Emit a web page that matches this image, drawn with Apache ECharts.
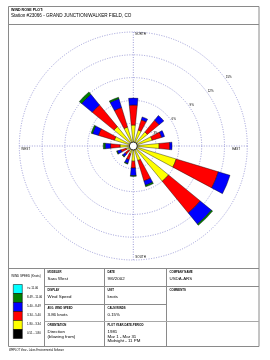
<!DOCTYPE html>
<html><head><meta charset="utf-8">
<script src="https://cdn.jsdelivr.net/npm/echarts@6/dist/echarts.min.js"></script>
<style>html,body{margin:0;padding:0;background:#fff}#c{width:270px;height:360px}</style>
</head><body><div id="c"></div>
<script>
// ---- data ----
const directions = ['N','NNE','NE','ENE','E','ESE','SE','SSE','S','SSW','SW','WSW','W','WNW','NW','NNW'];
const speedClasses = ['0.51 - 1.80','1.80 - 3.34','3.34 - 5.40','5.40 - 8.49','8.49 - 11.06','>= 11.06'];
const black  = [0.3,0.3,0.3,0.3,0.3,0.3,0.3,0.3,0.3,0.3,0.3,0.3,0.3,0.3,0.3,0.3];
const yellow = [2.46,1.9,2.1,2.3,3.1,5.6,5.7,1.7,1.7,0.8,0.5,0.7,1.45,2.3,3.0,2.3];
const red    = [2.64,1.4,2.0,1.3,1.4,5.8,5.4,2.8,0.9,0.8,0.6,0.7,1.25,2.2,3.7,2.7];
const blue   = [0.9,0.4,0.8,0.4,0.3,1.6,1.9,0.6,1.0,0.5,0.4,0.5,0.7,0.8,1.8,1.2];
const green  = [0,0,0,0,0,0,0.2,0.2,0.1,0.1,0.1,0.1,0.25,0.2,0.4,0.2];
const cyan   = [0,0,0,0,0,0,0,0,0,0,0,0,0,0,0,0];
const ringTicks = [3,6,9,12,15];
const ringLabels = ['3%','6%','9%','12%','15%'];
const cardinalLabels = ['NORTH','EAST','SOUTH','WEST'];

// ---- layout / style ----
const CX = 133.3, CY = 146, R = 114, RMAX = 15;
const FONT = '"Liberation Sans", Arial, sans-serif';
const GRID = '#9c9cd8';
const FRAME = '#8a8a8a';
const binColors = ['#000000','#ffff00','#ff0000','#0000ff','#008000','#00ffff'];
const binData = [black, yellow, red, blue, green, cyan];

const chart = echarts.init(document.getElementById('c'), null, {renderer:'canvas'});

const g = [];
function line(x1,y1,x2,y2,w,c){ g.push({type:'line',shape:{x1,y1,x2,y2},style:{stroke:c||FRAME,lineWidth:w||1},silent:true,z:10}); }
function text(t,x,y,size,opts){ opts=opts||{}; g.push({type:'text',x,y,silent:true,z:20,style:{text:t,fill:opts.fill||'#000',font:(opts.bold?'bold ':'')+size+'px '+FONT,textAlign:opts.align||'left',textVerticalAlign:opts.va||'middle'}}); }

// frame
g.push({type:'rect',shape:{x:8.5,y:6.5,width:250.5,height:340},style:{fill:null,stroke:FRAME,lineWidth:1},silent:true,z:10});
line(8.5,24.5,259,24.5);
text('WIND ROSE PLOT:',11,10,3.6,{bold:true});
text('Station #23066 - GRAND JUNCTION/WALKER FIELD, CO',11,16,4.6);
// table
const XC1=44.5, XC2=104.5, XC3=166.5, XR=259;
line(8.5,268.5,XR,268.5);
line(XC1,268.5,XC1,347);
line(XC2,268.5,XC2,347);
line(XC3,268.5,XC3,347);
line(XC1,286.5,XR,286.5);
line(XC1,304.5,XC3,304.5);
line(XC1,321.5,XR,321.5,1.2,'#a8a8a8');
// table texts
const LBL=2.8, VAL=4.4;
function cell(x,y,label,values){ text(label,x+3,y+3.5,LBL,{bold:true}); values.forEach((v,i)=>text(v,x+3,y+10+i*4.8,VAL)); }
cell(XC1,268.5,'MODELER',['Sara West']);
cell(XC2,268.5,'DATE',['9/6/2002']);
cell(XC3,268.5,'COMPANY NAME',['USDA-ARS']);
cell(XC1,286.5,'DISPLAY',['Wind Speed']);
cell(XC2,286.5,'UNIT',['knots']);
cell(XC3,286.5,'COMMENTS',[]);
cell(XC1,304.5,'AVG. WIND SPEED',['3.86 knots']);
cell(XC2,304.5,'CALM WINDS',['0.15%']);
cell(XC1,321.5,'ORIENTATION',['Direction','(blowing from)']);
cell(XC2,321.5,'PLOT YEAR-DATE-PERIOD',['1981','Mar 1 - Mar 31','Midnight - 11 PM']);
// legend
text('WIND SPEED (Knots)',26,276,3,{align:'center'});
const LX=13.3, LY=284.5, LH=9;
for(let i=0;i<6;i++){
  const k=5-i;
  g.push({type:'rect',shape:{x:LX,y:LY+i*LH,width:9,height:LH},style:{fill:binColors[k],stroke:'#000',lineWidth:0.5},silent:true,z:10});
  text(speedClasses[k],27,LY+i*LH+3.5,2.9);
}
text('WRPLOT View - Lakes Environmental Software',9,350.5,2.6);
// ring labels and cardinal names
ringTicks.forEach((v,i)=>{
  const r = v/RMAX*R; const a = 37.5*Math.PI/180;
  text(ringLabels[i], CX + r*Math.cos(a) + 2, CY - r*Math.sin(a) + 1, 3, {align:'left'});
});
text(cardinalLabels[0], CX+2, CY-R+2.5, 3);
text(cardinalLabels[2], CX+2, CY+R-3, 3);
text(cardinalLabels[1], CX+R-15, CY+3, 3);
text(cardinalLabels[3], CX-R+2, CY+3, 3);

const series = binData.map((arr,k)=>({
  type:'bar', coordinateSystem:'polar', polarIndex:0, stack:'rose', name:speedClasses[k],
  data: arr.map(v=> v>0 ? v : null), barWidth:'50%',
  itemStyle:{color:binColors[k], borderColor:'#000', borderWidth:0.4}, silent:true, z:3
}));
series.push({type:'pie', center:[CX,CY], radius:[0,4], silent:true, z:5, label:{show:false}, labelLine:{show:false},
  data:[{value:1,itemStyle:{color:'#fff',borderColor:'#000',borderWidth:0.8}}]});

chart.setOption({
  animation:false,
  backgroundColor:'#fff',
  polar:[{center:[CX,CY],radius:R},{center:[CX,CY],radius:R}],
  angleAxis:[
    {polarIndex:0,type:'category',data:directions,startAngle:90+11.25,clockwise:true,boundaryGap:true,
     axisLine:{show:false},axisTick:{show:false},axisLabel:{show:false},splitLine:{show:false}},
    {polarIndex:1,type:'value',min:0,max:360,interval:90,startAngle:90,clockwise:true,
     axisLine:{show:false},axisTick:{show:false},axisLabel:{show:false},
     splitLine:{show:true,lineStyle:{color:GRID,type:[1,1.5],width:1}}}
  ],
  radiusAxis:[
    {polarIndex:0,min:0,max:RMAX,axisLine:{show:false},axisTick:{show:false},axisLabel:{show:false},splitLine:{show:false}},
    {polarIndex:1,min:0,max:RMAX,interval:3,axisLine:{show:false},axisTick:{show:false},axisLabel:{show:false},
     splitLine:{show:true,lineStyle:{color:GRID,type:[1,1.5],width:1}}}
  ],
  series:series,
  graphic:{elements:g}
});
</script></body></html>
